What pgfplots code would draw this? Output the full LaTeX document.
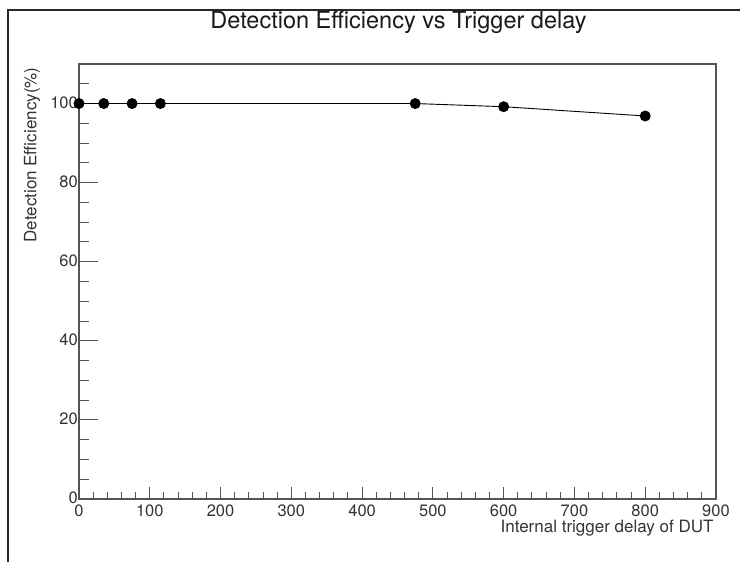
\documentclass[border=0pt]{standalone}
\usepackage{pgfplots}
\pgfplotsset{compat=1.18}
\usepackage{fontspec}
\setmainfont{TeX Gyre Heros}
\definecolor{axgray}{HTML}{555555}
\begin{document}
\begin{tikzpicture}[x=1pt,y=1pt]
\useasboundingbox (0,0) rectangle (740,562);
\draw[line width=1.5pt, black!85] (8,-5) -- (8,552) -- (745,552);
\begin{axis}[
  at={(79pt,63pt)}, anchor=south west,
  scale only axis, width=637pt, height=435pt,
  xmin=0, xmax=900, ymin=0, ymax=110,
  axis line style={axgray, line width=1.2pt},
  xtick={0,100,...,900}, ytick={0,20,...,100},
  minor xtick={20,40,60,80,120,140,160,180,220,240,260,280,320,340,360,380,420,440,460,480,520,540,560,580,620,640,660,680,720,740,760,780,820,840,860,880},
  minor ytick={5,10,15,25,30,35,45,50,55,65,70,75,85,90,95,105},
  xtick pos=bottom, ytick pos=left, tick align=inside,
  x tick style={axgray, line width=1pt, /pgfplots/major tick length=12pt, /pgfplots/minor tick length=7pt},
  y tick style={axgray, line width=1pt, /pgfplots/major tick length=19pt, /pgfplots/minor tick length=10pt},
  tick label style={font=\fontsize{16.5}{19}\selectfont, text=black!80},
  /pgf/number format/assume math mode=true,
  xticklabel style={yshift=-5pt, inner sep=1pt},
  yticklabel style={xshift=0pt, yshift=1pt, inner sep=1pt},
  xlabel={Internal trigger delay of DUT},
  ylabel={Detection Efficiency(\%)},
  xlabel style={font=\fontsize{17}{20}\selectfont, text=black!80, at={(axis description cs:1.0016,-0.0667)}, anchor=east},
  ylabel style={font=\fontsize{17}{20}\selectfont, text=black!80, at={(axis description cs:-0.0738,1)}, anchor=east},
  title={Detection Efficiency vs Trigger delay},
  title style={font=\fontsize{23.5}{28}\selectfont, text=black!90, at={(axis description cs:0.5016,1.0667)}, anchor=base},
  clip=false,
]
\addplot[black, line width=0.9pt, mark=*, mark size=5pt, mark options={fill=black}] coordinates {
 (0,100) (35,100) (75,100) (115,100) (475,100) (600,99.2) (800,96.85)
};
\end{axis}
\end{tikzpicture}
\end{document}
